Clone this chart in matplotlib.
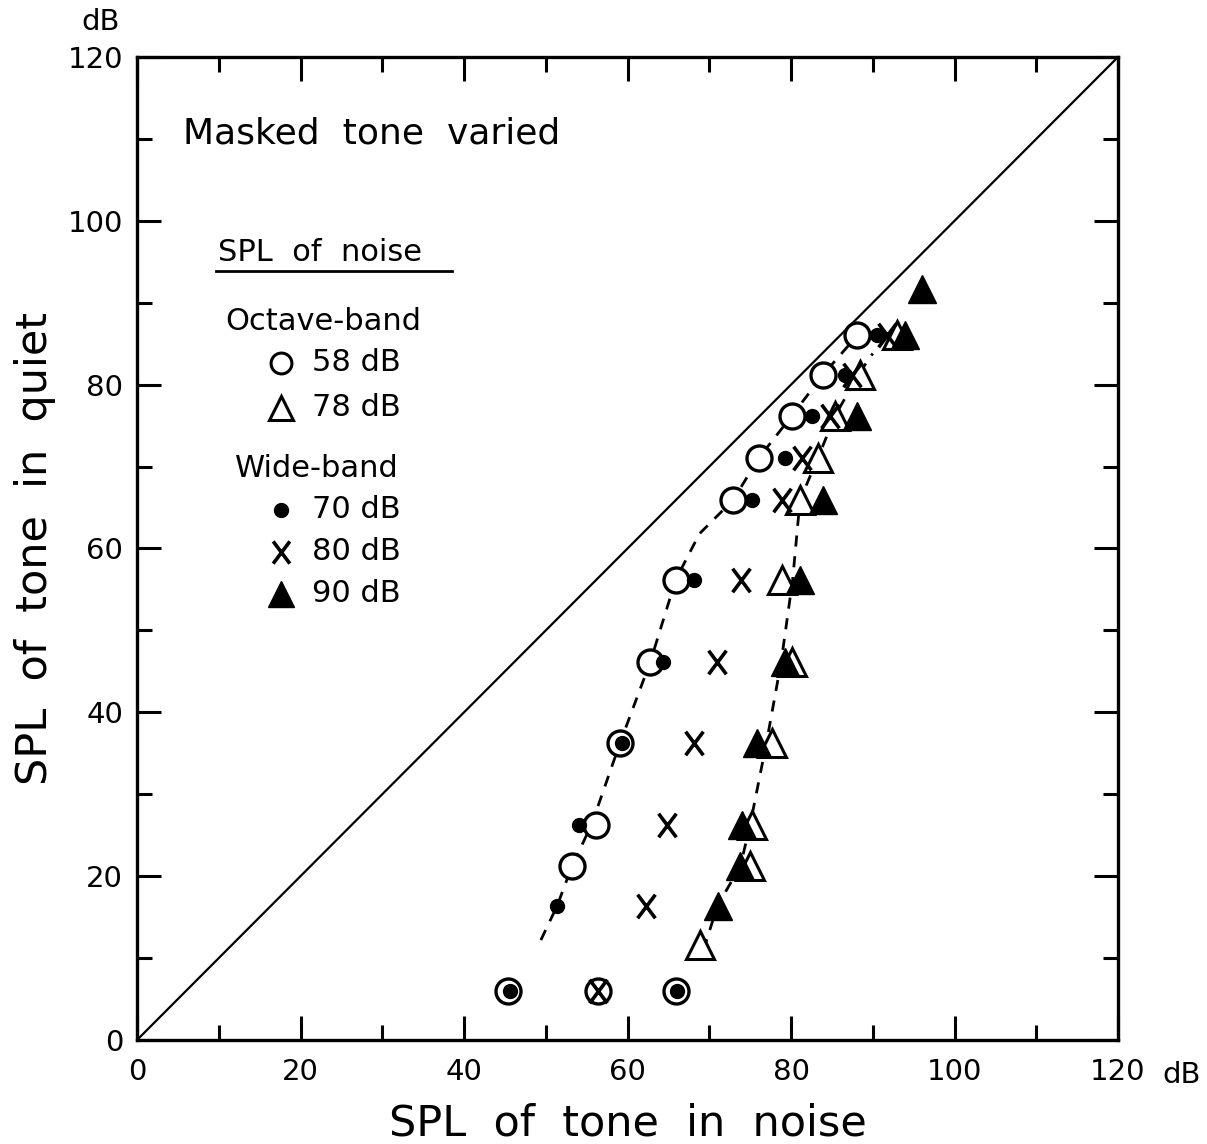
import numpy as np
import matplotlib.pyplot as plt
from matplotlib.path import Path

plt.rcParams["font.family"] = ["DejaVu Sans"]

# octave-band 58 dB (open circles)
circ_x = [45.4, 56.4, 65.9, 53.2, 56.1, 59.1, 62.8, 65.9, 72.9, 76.1, 80.1, 83.9, 88.1]
circ_y = [6, 6, 6, 21.2, 26.3, 36.3, 46.2, 56.2, 65.9, 71.1, 76.2, 81.2, 86.0]

# octave-band 78 dB (open triangles)
otri_x = [68.9, 75.0, 75.2, 77.7, 80.1, 78.9, 81.1, 83.3, 85.4, 88.4, 93.0]
otri_y = [11.6, 21.2, 26.3, 36.3, 46.2, 56.2, 65.9, 71.1, 76.2, 81.2, 86.0]

# wide-band 70 dB (filled dots)
dot_x = [45.6, 66.1, 51.4, 54.1, 59.3, 64.3, 68.1, 75.2, 79.3, 82.6, 86.6, 90.5]
dot_y = [6, 6, 16.4, 26.3, 36.3, 46.2, 56.2, 65.9, 71.1, 76.2, 81.2, 86.0]

# wide-band 80 dB (X)
cross_x = [56.4, 62.3, 64.8, 68.1, 70.9, 73.9, 78.9, 81.3, 84.8, 87.5, 91.7]
cross_y = [6, 16.4, 26.3, 36.3, 46.2, 56.2, 65.9, 71.1, 76.2, 81.2, 86.0]

# wide-band 90 dB (filled triangles)
ftri_x = [71.1, 73.8, 74.0, 75.8, 79.3, 81.1, 83.9, 88.1, 93.9, 96.0]
ftri_y = [16.4, 21.2, 26.3, 36.3, 46.2, 56.2, 65.9, 76.2, 86.0, 91.7]

# dashed curves drawn by hand through the points
left_x = [49.4, 51.4, 53.2, 55.6, 59.1, 62.8, 65.9, 68.8, 72.9, 76.1, 80.1, 83.9, 88.1]
left_y = [12.2, 16.4, 21.2, 26.3, 36.3, 46.2, 56.2, 61.8, 65.9, 71.1, 76.2, 81.2, 86.0]
right_x = [69.3, 71.0, 73.8, 75.0, 77.0, 78.8, 80.2, 81.1, 83.3, 85.4, 88.2, 90.0]
right_y = [11.0, 16.4, 21.2, 26.3, 36.3, 46.2, 56.2, 65.9, 71.1, 76.2, 81.2, 83.8]

xticks = [0, 20, 40, 60, 80, 100, 120]
yticks = [0, 20, 40, 60, 80, 100, 120]

cross_marker = Path([(-0.75, -1), (0.75, 1), (-0.75, 1), (0.75, -1)],
                    [Path.MOVETO, Path.LINETO, Path.MOVETO, Path.LINETO])

fig = plt.figure(figsize=(12.07, 11.44), dpi=100)
ax = fig.add_axes([0.1135, 0.0909, 0.8128, 0.8593])

ax.plot([0, 120], [0, 120], color="k", lw=1.6, zorder=2)
ax.plot(left_x, left_y, color="k", lw=2, ls=(0, (4, 3.5)), zorder=2)
ax.plot(right_x, right_y, color="k", lw=2, ls=(0, (4, 3.5)), zorder=2)

ax.plot(otri_x, otri_y, ls="none", marker="^", ms=20, mfc="white", mec="k", mew=2.2, zorder=3)
ax.plot(ftri_x, ftri_y, ls="none", marker="^", ms=20, mfc="k", mec="k", mew=1, zorder=4)
ax.plot(circ_x, circ_y, ls="none", marker="o", ms=18, mfc="white", mec="k", mew=2.4, zorder=5)
ax.plot(dot_x, dot_y, ls="none", marker="o", ms=10, mfc="k", mec="k", zorder=6)
ax.plot(cross_x, cross_y, ls="none", marker=cross_marker, ms=17, mec="k", mew=2.6, zorder=6)

ax.set_xlim(0, 120)
ax.set_ylim(0, 120)
ax.set_xticks(xticks)
ax.set_yticks(yticks)
ax.set_xticklabels([str(t) for t in xticks])
ax.set_yticklabels([str(t) for t in yticks])
ax.set_xticks(range(10, 120, 20), minor=True)
ax.set_yticks(range(10, 120, 20), minor=True)
ax.tick_params(which="both", direction="in", top=True, right=True, width=2.2, labelsize=21)
ax.tick_params(which="major", length=17)
ax.tick_params(which="minor", length=11)
ax.tick_params(axis="x", pad=13)
ax.tick_params(axis="y", pad=10)
for s in ax.spines.values():
    s.set_linewidth(2.4)

ax.set_xlabel("SPL  of  tone  in  noise", fontsize=31, labelpad=12)
ax.set_ylabel("SPL  of  tone  in  quiet", fontsize=31, labelpad=8)

ax.text(125.4, -4.3, "dB", fontsize=21, ha="left", va="center", clip_on=False)
ax.text(-4.5, 124.3, "dB", fontsize=21, ha="center", va="center", clip_on=False)

ax.text(5.6, 110.7, "Masked  tone  varied", fontsize=26, va="center")

# legend block
ax.text(9.9, 96.1, "SPL  of  noise", fontsize=22, va="center")
ax.plot([9.7, 38.5], [93.9, 93.9], color="k", lw=2)
ax.text(10.8, 87.7, "Octave-band", fontsize=22, va="center")
ax.plot([17.6], [82.7], ls="none", marker="o", ms=15, mfc="white", mec="k", mew=2.2)
ax.text(21.4, 82.7, "58 dB", fontsize=22, va="center")
ax.plot([17.6], [77.2], ls="none", marker="^", ms=17, mfc="white", mec="k", mew=2.2)
ax.text(21.4, 77.2, "78 dB", fontsize=22, va="center")
ax.text(12.0, 69.8, "Wide-band", fontsize=22, va="center")
ax.plot([17.6], [64.7], ls="none", marker="o", ms=10, mfc="k", mec="k")
ax.text(21.4, 64.7, "70 dB", fontsize=22, va="center")
ax.plot([17.6], [59.6], ls="none", marker=cross_marker, ms=16, mec="k", mew=2.6)
ax.text(21.4, 59.6, "80 dB", fontsize=22, va="center")
ax.plot([17.6], [54.5], ls="none", marker="^", ms=19, mfc="k", mec="k")
ax.text(21.4, 54.5, "90 dB", fontsize=22, va="center")

plt.savefig("out.png", dpi=100)
